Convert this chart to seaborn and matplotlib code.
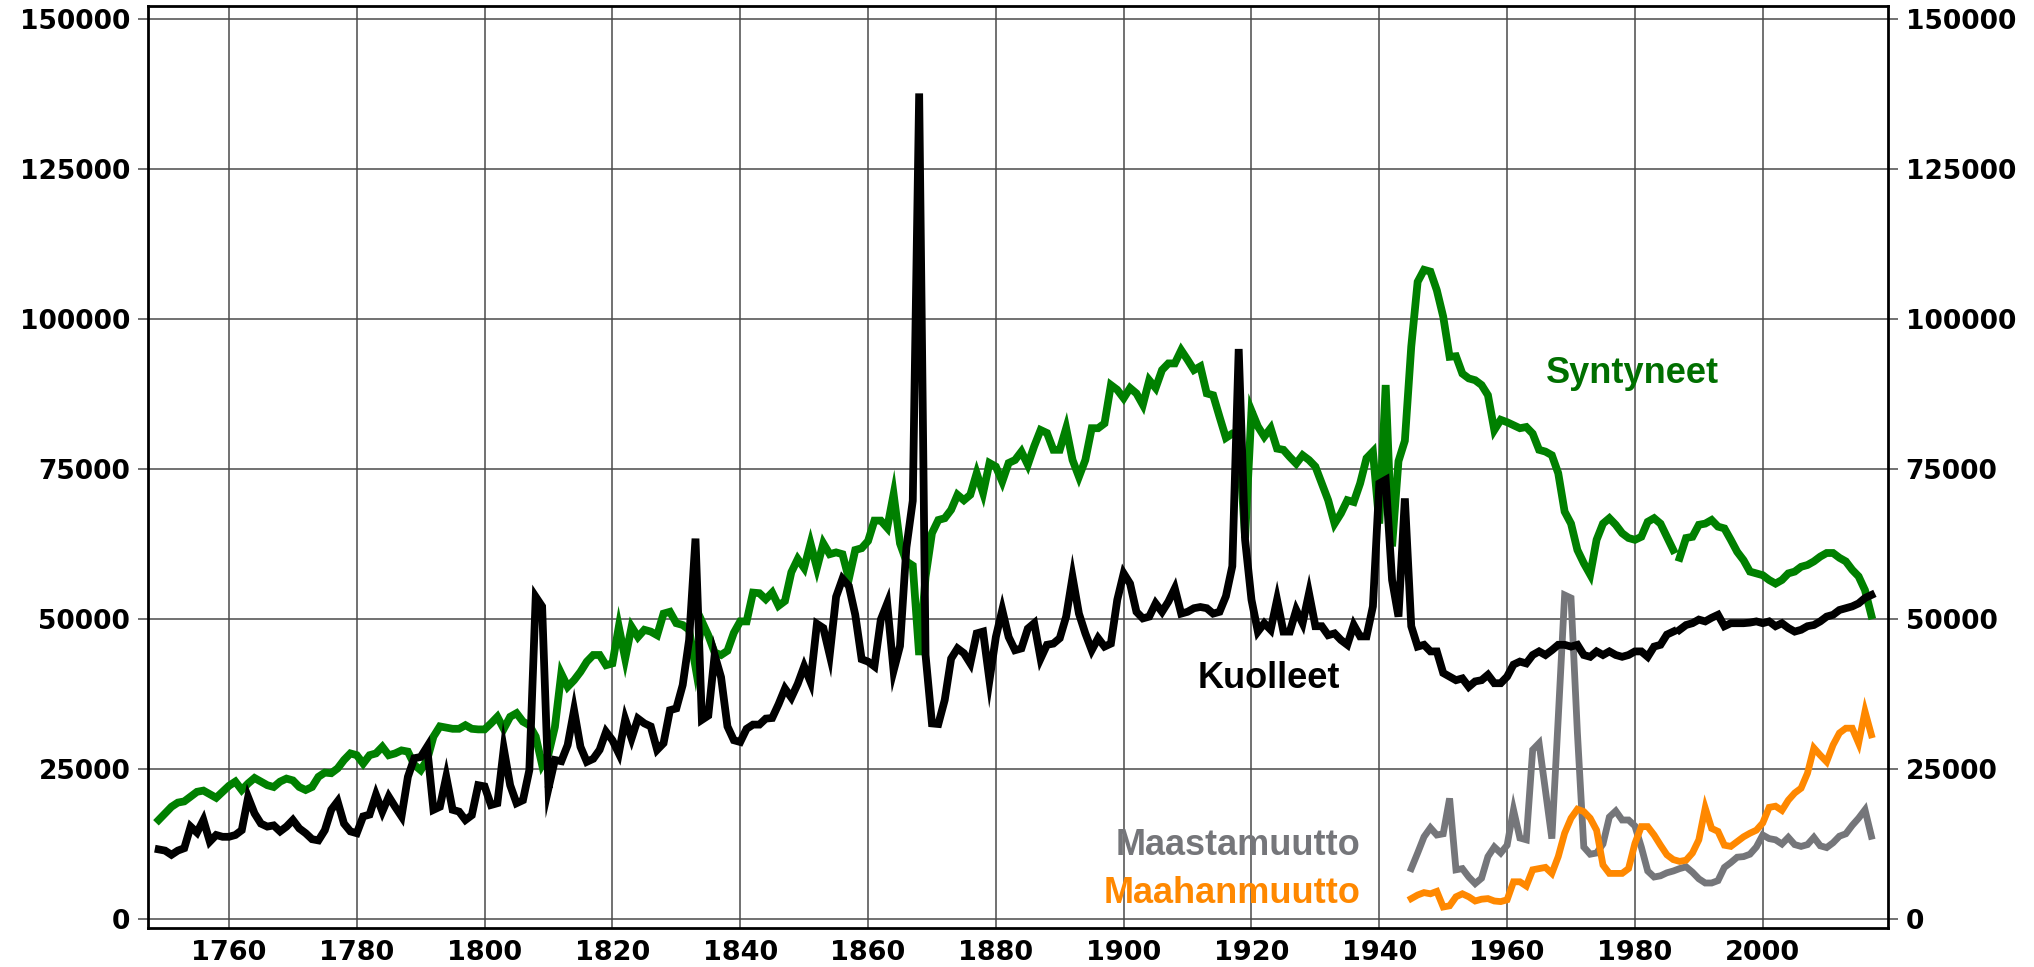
import numpy as np
import pandas as pd
import matplotlib
matplotlib.use("Agg")
import matplotlib.pyplot as plt
import seaborn as sns

# ---- Vital statistics of Finland, 1749-2017 (thousands per year) ----
vital_years = np.arange(1749, 2018)

births_k = [
    16.5, 17.6, 18.7, 19.4, 19.6, 20.4, 21.2, 21.4, 20.8, 20.2, 21.2,          # 1749-1759
    22.2, 22.9, 21.5, 22.6, 23.5, 22.9, 22.3, 22.0, 22.9, 23.4,                # 1760-1769
    23.1, 22.0, 21.5, 22.0, 23.7, 24.4, 24.3, 25.1, 26.5, 27.6,                # 1770-1779
    27.3, 25.9, 27.3, 27.6, 28.7, 27.3, 27.6, 28.1, 27.9, 25.7,                # 1780-1789
    24.8, 26.5, 30.4, 32.1, 31.9, 31.7, 31.7, 32.3, 31.7, 31.6,                # 1790-1799
    31.6, 32.6, 33.7, 31.7, 33.7, 34.3, 32.9, 32.3, 30.4, 25.7,                # 1800-1809
    27.5, 32.0, 40.9, 38.7, 39.8, 41.2, 42.9, 44.0, 44.0, 42.3,                # 1810-1819
    42.6, 48.7, 43.4, 48.7, 47.0, 48.2, 47.9, 47.3, 50.9, 51.2,                # 1820-1829
    49.3, 49.0, 48.2, 42.0, 49.6, 47.3, 44.4, 44.0, 44.7, 47.7,                # 1830-1839
    49.6, 49.6, 54.4, 54.3, 53.3, 54.4, 52.2, 53.0, 57.8, 60.0,                # 1840-1849
    58.5, 62.6, 58.5, 62.6, 60.8, 61.1, 60.8, 56.7, 61.5, 61.8,                # 1850-1859
    63.0, 66.4, 66.4, 65.2, 70.8, 62.6, 59.6, 58.9, 44.0, 57.0,                # 1860-1869
    64.3, 66.5, 66.8, 68.2, 70.7, 69.8, 70.7, 74.3, 71.0, 76.0,                # 1870-1879
    75.4, 72.9, 76.0, 76.5, 77.9, 75.7, 78.8, 81.5, 81.0, 78.2,                # 1880-1889
    78.2, 81.8, 76.5, 73.7, 76.5, 81.8, 81.8, 82.6, 89.0, 88.2,                # 1890-1899
    86.8, 88.5, 87.6, 85.7, 89.8, 88.5, 91.5, 92.6, 92.6, 94.8,                # 1900-1909
    93.2, 91.5, 92.1, 87.6, 87.3, 83.7, 80.2, 80.9, 80.5, 63.5,                # 1910-1919
    84.7, 82.1, 80.4, 81.8, 78.4, 78.2, 77.0, 75.9, 77.3, 76.5,                # 1920-1929
    75.4, 72.6, 69.8, 65.9, 67.6, 69.8, 69.5, 72.6, 76.8, 77.9,                # 1930-1939
    65.9, 89.0, 62.1, 76.3, 79.7, 95.4, 106.2, 108.2, 107.9, 104.8,            # 1940-1949
    100.4, 93.7, 93.8, 90.9, 90.1, 89.8, 89.0, 87.3, 81.5, 83.2,               # 1950-1959
    82.8, 82.3, 81.8, 82.0, 80.9, 78.2, 77.9, 77.3, 74.3, 67.9,                # 1960-1969
    65.9, 61.5, 59.3, 57.4, 63.2, 65.9, 66.8, 65.7, 64.3, 63.5,                # 1970-1979
    63.2, 63.7, 66.2, 66.8, 65.9, 63.7, 61.5, 60.2, 63.5, 63.7,                # 1980-1989
    65.7, 65.9, 66.5, 65.4, 65.1, 63.2, 61.2, 59.8, 57.9, 57.6,                # 1990-1999
    57.3, 56.5, 55.9, 56.5, 57.6, 57.9, 58.7, 59.0, 59.6, 60.4,                # 2000-2009
    61.0, 61.0, 60.2, 59.6, 58.2, 57.1, 54.8, 50.6,                            # 2010-2017
]

deaths_k = [
    11.6, 11.4, 10.7, 11.4, 11.8, 15.4, 14.4, 16.5, 12.9, 14.0, 13.7,          # 1749-1759
    13.7, 14.0, 14.8, 20.3, 17.6, 15.9, 15.4, 15.6, 14.6, 15.4,                # 1760-1769
    16.5, 15.1, 14.3, 13.3, 13.1, 14.8, 18.2, 19.6, 15.9, 14.6,                # 1770-1779
    14.3, 17.1, 17.4, 20.7, 17.9, 20.4, 18.7, 17.1, 23.7, 26.8,                # 1780-1789
    27.0, 28.7, 18.2, 18.7, 23.7, 18.2, 17.9, 16.5, 17.3, 22.3,                # 1790-1799
    22.1, 19.0, 19.3, 28.4, 22.3, 19.3, 19.8, 24.8, 53.7, 52.1,                # 1800-1809
    21.8, 26.5, 26.3, 29.0, 34.8, 28.7, 26.2, 26.7, 28.2, 31.2,                # 1810-1819
    29.8, 27.6, 33.3, 30.1, 33.4, 32.6, 32.1, 28.2, 29.3, 34.8,                # 1820-1829
    35.1, 39.0, 46.5, 63.4, 33.2, 33.9, 44.0, 40.3, 32.1, 29.8,                # 1830-1839
    29.5, 31.7, 32.4, 32.4, 33.4, 33.5, 35.8, 38.4, 36.9, 39.2,                # 1840-1849
    42.1, 39.5, 49.2, 48.5, 44.0, 53.7, 56.7, 55.5, 50.7, 43.3,                # 1850-1859
    42.9, 42.1, 49.9, 52.6, 41.4, 45.5, 61.9, 69.7, 137.6, 44.0,               # 1860-1869
    32.6, 32.5, 36.5, 43.4, 45.1, 44.3, 42.6, 47.6, 47.9, 39.8,                # 1870-1879
    47.0, 51.5, 47.0, 44.8, 45.1, 48.4, 49.3, 43.4, 45.7, 45.9,                # 1880-1889
    46.8, 50.4, 57.0, 50.9, 47.6, 44.8, 46.8, 45.4, 45.9, 53.2,                # 1890-1899
    57.6, 55.9, 51.2, 50.1, 50.4, 52.6, 51.2, 52.9, 55.1, 50.9,                # 1900-1909
    51.2, 51.8, 52.0, 51.8, 50.9, 51.2, 53.8, 58.8, 95.0, 63.2,                # 1910-1919
    53.2, 47.9, 49.3, 48.2, 53.2, 47.9, 47.9, 51.5, 49.3, 54.3,                # 1920-1929
    48.8, 48.8, 47.3, 47.6, 46.5, 45.7, 49.0, 47.1, 47.1, 52.1,                # 1930-1939
    72.6, 73.2, 56.5, 50.4, 70.1, 48.8, 45.4, 45.7, 44.6, 44.6,                # 1940-1949
    41.0, 40.4, 39.8, 40.1, 38.7, 39.6, 39.8, 40.7, 39.3, 39.3,                # 1950-1959
    40.4, 42.4, 42.9, 42.6, 44.0, 44.6, 44.0, 44.8, 45.7, 45.7,                # 1960-1969
    45.4, 45.7, 44.0, 43.7, 44.6, 44.0, 44.6, 44.0, 43.7, 44.0,                # 1970-1979
    44.6, 44.6, 43.7, 45.4, 45.7, 47.4, 47.9, 48.2, 49.0, 49.3,                # 1980-1989
    49.9, 49.6, 50.2, 50.7, 48.8, 49.3, 49.3, 49.3, 49.4, 49.6,                # 1990-1999
    49.3, 49.6, 48.8, 49.3, 48.5, 47.9, 48.2, 48.8, 49.0, 49.6,                # 2000-2009
    50.4, 50.7, 51.5, 51.8, 52.1, 52.6, 53.5, 54.0,                            # 2010-2017
]

# ---- Migration, 1945-2017 (thousands per year) ----
migration_years = np.arange(1945, 2018)

emigration_k = [
    8.4, 11.0, 13.7, 15.2, 14.0,                                               # 1945-1949
    14.2, 20.1, 8.2, 8.4, 7.0, 5.9, 6.8, 10.4, 12.0, 11.0,                     # 1950-1959
    12.3, 18.2, 13.5, 13.2, 28.2, 29.3, 21.4, 13.4, 33.5, 54.0,                # 1960-1969
    53.5, 31.0, 12.0, 10.8, 11.0, 12.5, 17.0, 18.0, 16.5, 16.5,                # 1970-1979
    15.5, 12.0, 8.0, 7.0, 7.2, 7.7, 8.0, 8.4, 8.7, 7.8,                        # 1980-1989
    6.7, 6.0, 6.0, 6.4, 8.6, 9.4, 10.3, 10.4, 10.8, 12.0,                      # 1990-1999
    14.0, 13.4, 13.2, 12.5, 13.6, 12.4, 12.1, 12.4, 13.6, 12.2,                # 2000-2009
    11.9, 12.7, 13.8, 14.2, 15.6, 16.8, 18.2, 13.8,                            # 2010-2017
]

immigration_k = [
    3.4, 4.0, 4.4, 4.2, 4.6,                                                   # 1945-1949
    2.0, 2.2, 3.7, 4.2, 3.7, 3.0, 3.3, 3.4, 3.0, 2.9,                          # 1950-1959
    3.2, 6.2, 6.2, 5.5, 8.2, 8.4, 8.6, 7.6, 10.4, 14.3,                        # 1960-1969
    16.8, 18.3, 17.9, 16.8, 14.8, 9.0, 7.6, 7.6, 7.6, 8.4,                     # 1970-1979
    12.6, 15.4, 15.4, 14.0, 12.3, 10.7, 9.9, 9.6, 9.8, 11.0,                   # 1980-1989
    13.2, 18.5, 15.1, 14.6, 12.3, 12.1, 12.9, 13.7, 14.3, 14.8,                # 1990-1999
    16.0, 18.6, 18.8, 18.1, 19.8, 21.0, 21.8, 24.3, 28.5, 27.3,                # 2000-2009
    26.2, 29.0, 31.0, 31.8, 31.8, 29.3, 34.6, 30.7,                            # 2010-2017
]

x_ticks = list(range(1760, 2001, 20))
y_ticks = list(range(0, 150001, 25000))

# ---- Tidy tables ----
vital = pd.DataFrame({
    "vuosi": vital_years,
    "syntyneet": np.array(births_k) * 1000,
    "kuolleet": np.array(deaths_k) * 1000,
})
# statistics series are published in two parts; keep them as separate line pieces
vital["jakso"] = np.where(vital["vuosi"] <= 1986, 0, 1)

migration = pd.DataFrame({
    "vuosi": migration_years,
    "maastamuutto": np.array(emigration_k) * 1000,
    "maahanmuutto": np.array(immigration_k) * 1000,
})

# ---- Figure ----
sns.set_style("white")
plt.rcParams["font.family"] = ["DejaVu Sans"]

fig = plt.figure(figsize=(20.34, 9.67), dpi=100)
ax = fig.add_axes([0.07276, 0.04033, 0.85546, 0.95347])

GREEN = "#008000"
GREY = "#75767a"
ORANGE = "#ff8800"


def draw(data, y, color, width, z, **kw):
    """Draw one series and fix its stroke width / caps / layering."""
    before = len(ax.lines)
    sns.lineplot(data=data, x="vuosi", y=y, color=color, ax=ax, **kw)
    for ln in ax.lines[before:]:
        ln.set_linewidth(width)
        ln.set_zorder(z)
        ln.set_solid_capstyle("projecting")
        ln.set_solid_joinstyle("miter")


draw(vital, "syntyneet", GREEN, 5.6, 2, units="jakso", estimator=None)
draw(migration, "maastamuutto", GREY, 4.9, 3)
draw(migration, "maahanmuutto", ORANGE, 4.9, 4)
draw(vital, "kuolleet", "black", 5.6, 5, units="jakso", estimator=None)

ax.set_xlim(1747.33, 2019.6)
ax.set_ylim(-1500, 152170)
ax.set_xlabel("")
ax.set_ylabel("")

ax.set_xticks(x_ticks, labels=[str(t) for t in x_ticks],
              fontsize=19.5, fontweight="bold", color="black")
ax.set_yticks(y_ticks, labels=[str(t) for t in y_ticks],
              fontsize=19, fontweight="bold", color="black")

ax.grid(True, color="#4a4a4a", linewidth=1.1)
ax.set_axisbelow(True)

ax.tick_params(axis="both", direction="out", length=7.2, width=1.1,
               color="#4a4a4a", labelcolor="black")
ax.tick_params(axis="x", pad=1.5)
ax.tick_params(axis="y", left=True, right=True, labelleft=True,
               labelright=True, pad=5.5)

for side in ["left", "right", "top", "bottom"]:
    ax.spines[side].set_visible(True)
    ax.spines[side].set_color("black")
    ax.spines[side].set_linewidth(2.0)

# ---- Series names ----
label_kw = dict(fontsize=26, fontweight="bold", family=["Liberation Sans", "DejaVu Sans"],
                va="baseline", zorder=6)
ax.text(1966.1, 89300, "Syntyneet", color="#006f00", ha="left", **label_kw)
ax.text(1911.6, 38500, "Kuolleet", color="black", ha="left", **label_kw)
ax.text(1937.0, 10700, "Maastamuutto", color=GREY, ha="right", **label_kw)
ax.text(1937.0, 2700, "Maahanmuutto", color=ORANGE, ha="right", **label_kw)

fig.savefig("out.png", dpi=100, facecolor="white")
